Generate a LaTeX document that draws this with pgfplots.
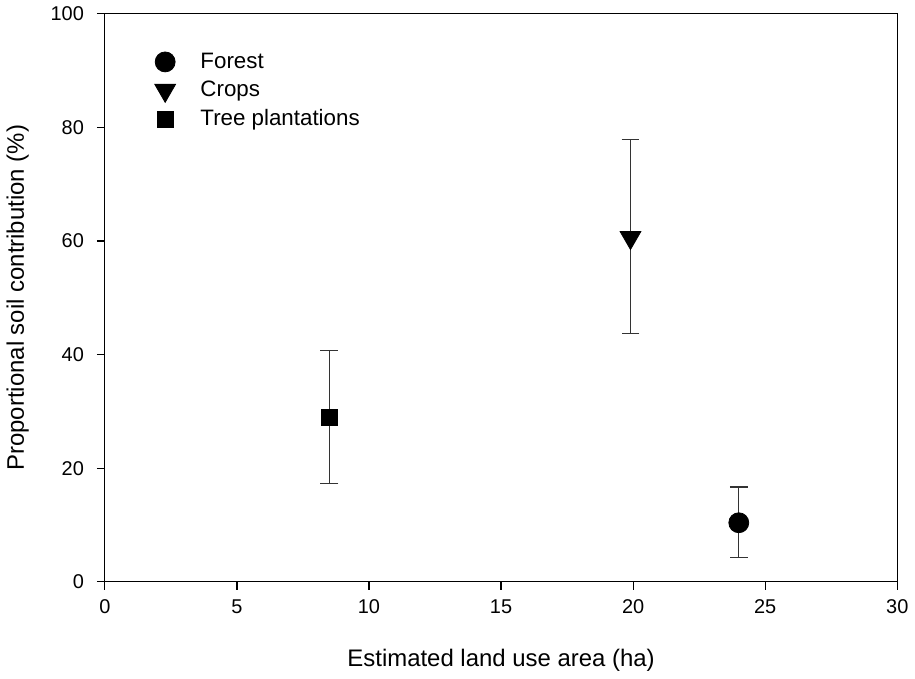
\documentclass[border=0pt]{standalone}
\usepackage{pgfplots}
\pgfplotsset{compat=1.18}
\usepackage{fontspec}
\setmainfont{Liberation Sans}
\begin{document}
\begin{tikzpicture}
\begin{axis}[
  width=397.5pt, height=285pt, scale only axis,
  xmin=0, xmax=30, ymin=0, ymax=100,
  xtick={0,5,...,30}, ytick={0,20,...,100},
  tick align=outside, tick pos=left,
  major tick length=4pt,
  axis line style={line width=0.6pt},
  tick style={line width=0.6pt, black},
  /pgf/number format/assume math mode=true,
  ticklabel style={font=\fontsize{10}{12}\selectfont},
  yticklabel style={xshift=-3pt},
  xticklabel style={yshift=-1.5pt},
  xlabel={Estimated land use area (ha)},
  ylabel={Proportional soil contribution (\%)},
  label style={font=\fontsize{12}{14}\selectfont},
  xlabel style={yshift=-11pt},
  ylabel style={yshift=4pt},
  legend style={draw=none, fill=none, at={(0.055,0.946)}, anchor=north west,
    font=\fontsize{11.2}{13}\selectfont, row sep=1pt, cells={anchor=west},
    /tikz/every odd column/.append style={column sep=10.5pt}},
  legend cell align=left,
  every axis plot/.append style={black},
  error bars/error bar style={line width=0.6pt, black!80},
  error bars/error mark options={rotate=90, mark size=4.5pt, line width=0.6pt, black!80},
]
\addplot[only marks, mark=*, mark size=5pt, fill=black,
  error bars/.cd, y dir=both, y explicit]
  coordinates {(24.0,10.4) += (0,6.3) -= (0,6.1)};
\addlegendentry{Forest}
\addplot[only marks, mark=triangle*, mark size=6pt, mark options={rotate=180, fill=black},
  error bars/.cd, y dir=both, y explicit]
  coordinates {(19.9,60.6) += (0,17.3) -= (0,16.9)};
\addlegendentry{Crops}
\addplot[only marks, mark=square*, mark size=4pt, fill=black,
  error bars/.cd, y dir=both, y explicit]
  coordinates {(8.5,28.9) += (0,11.8) -= (0,11.6)};
\addlegendentry{Tree plantations}
\end{axis}
\end{tikzpicture}
\end{document}
